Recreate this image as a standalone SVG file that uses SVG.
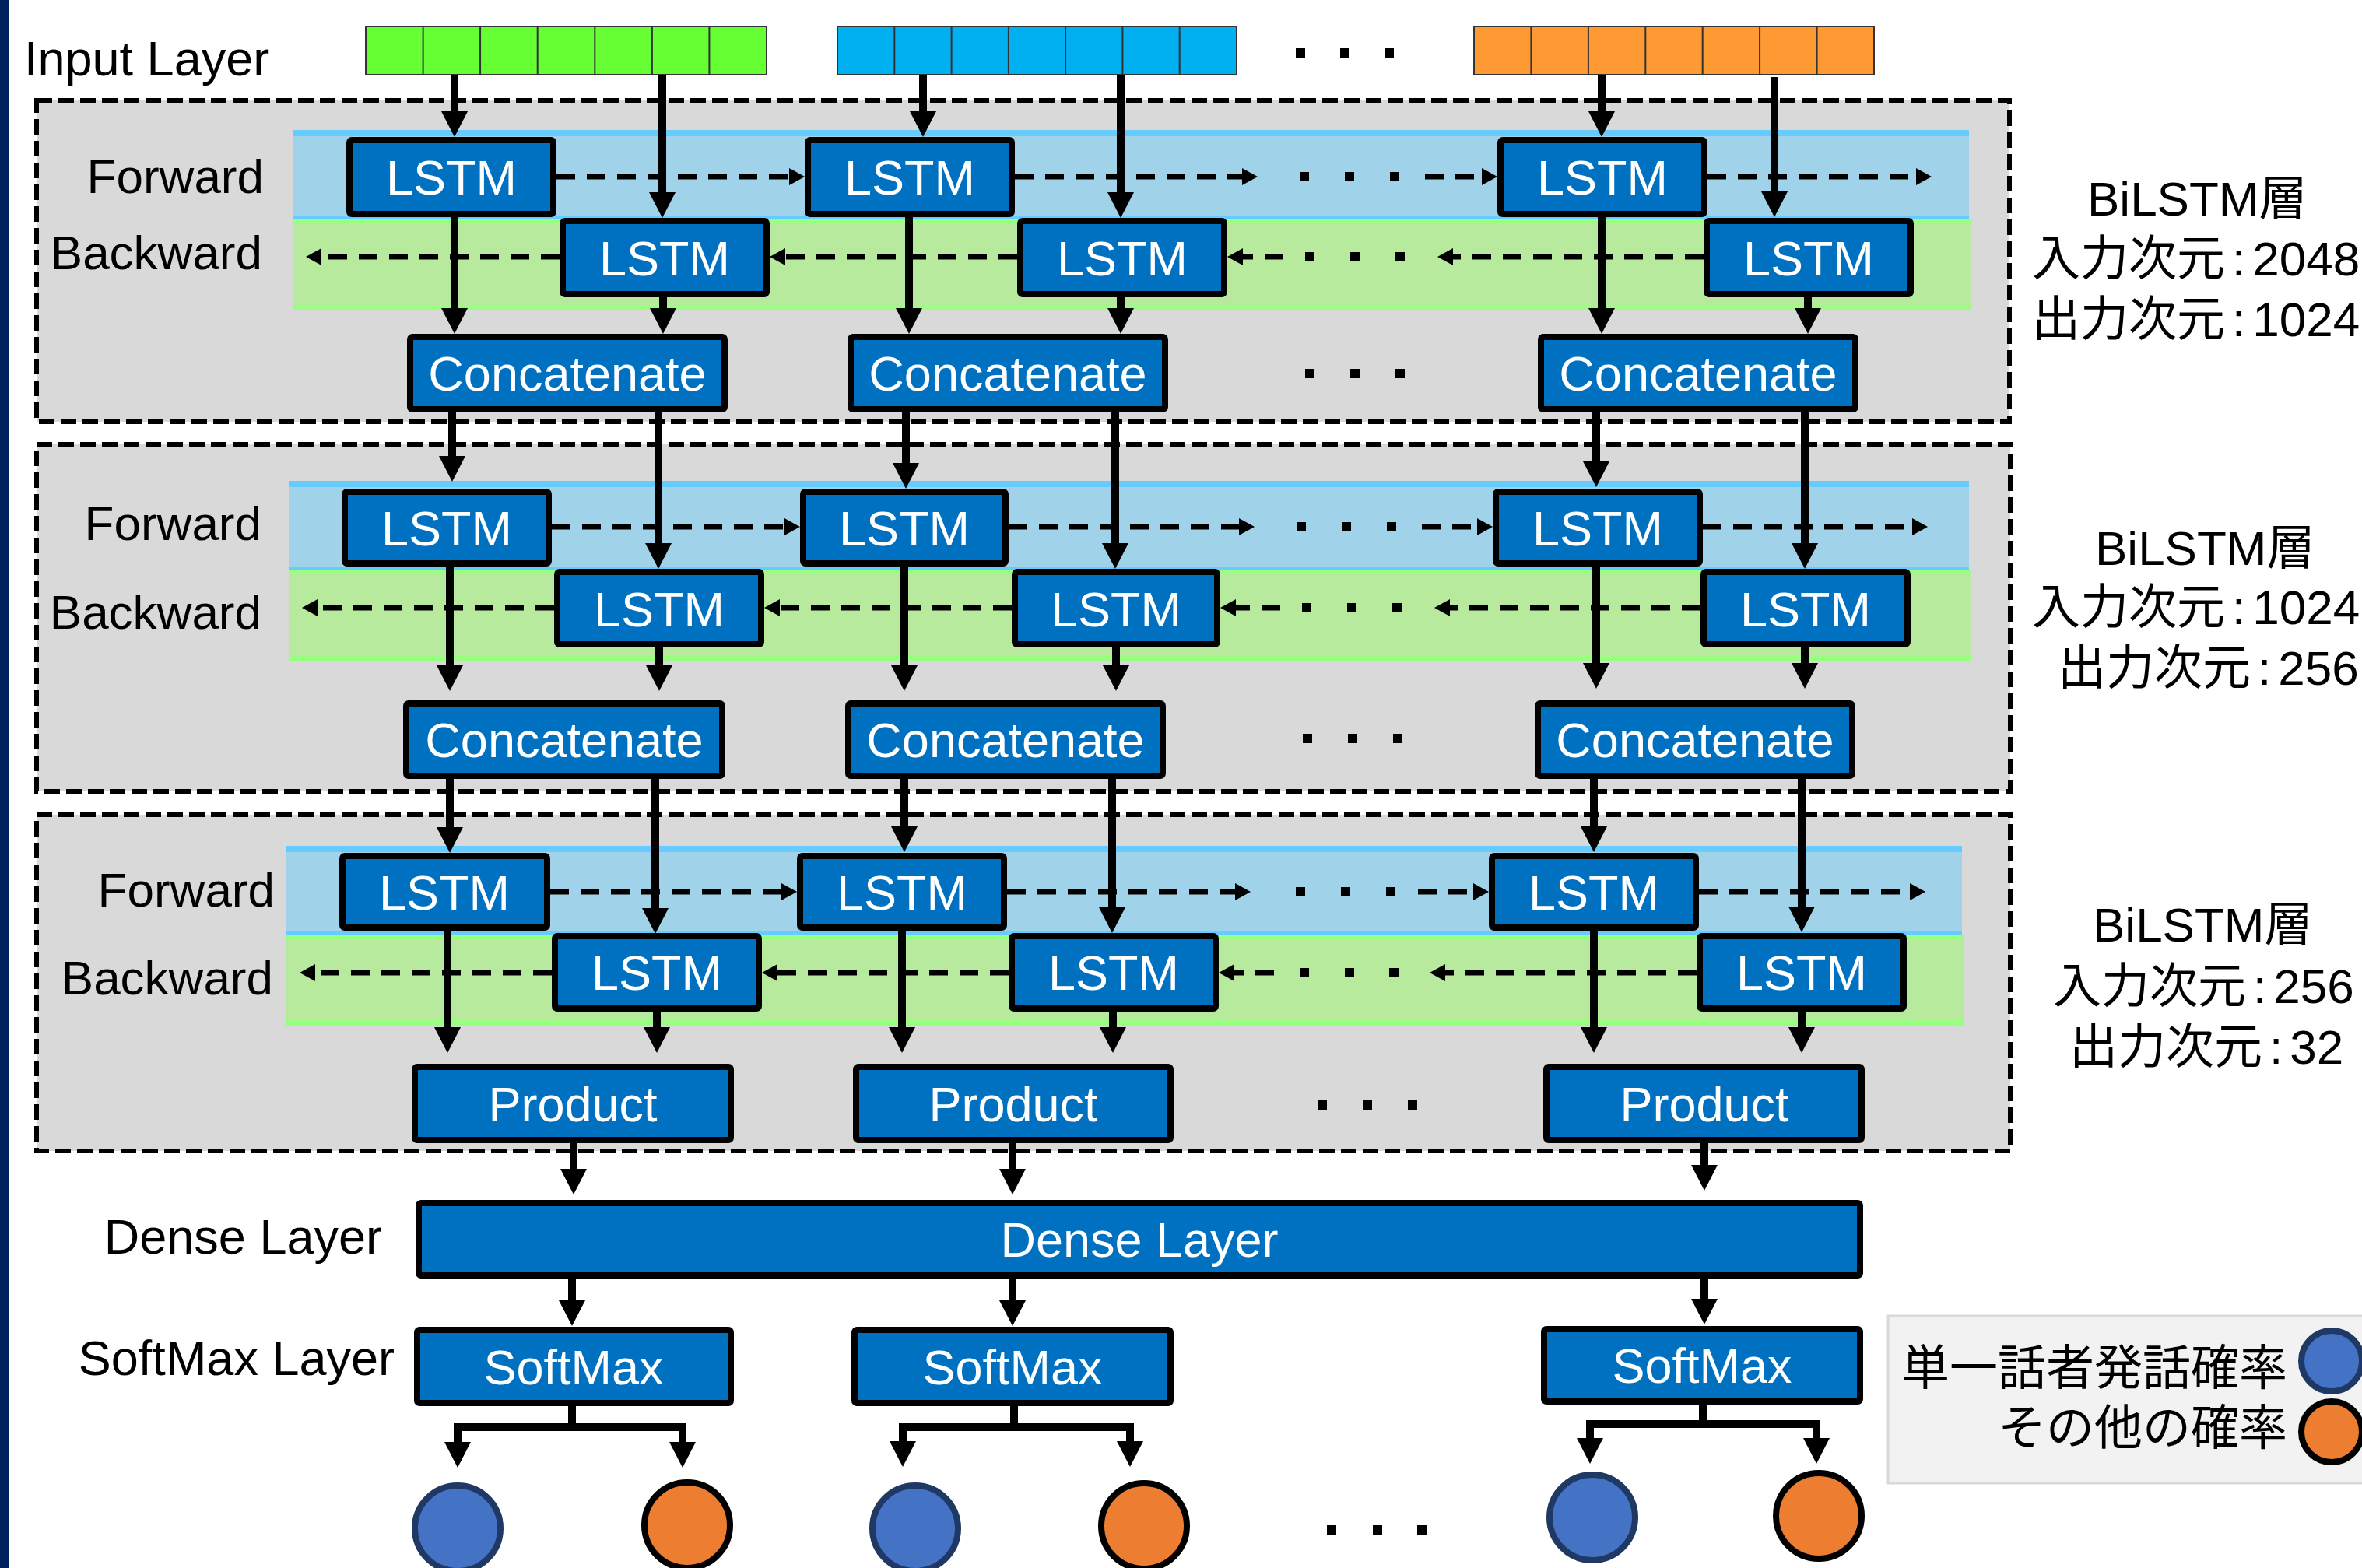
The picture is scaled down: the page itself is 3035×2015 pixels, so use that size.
<svg xmlns="http://www.w3.org/2000/svg" width="3035" height="2015" viewBox="0 0 3035 2015">
<style>
.t{font-family:"Liberation Sans",Arial,sans-serif;fill:#000}
.jp{font-family:"Liberation Sans","Noto Sans CJK JP",sans-serif;fill:#000;font-size:62px}
.bx{fill:#0070C0;stroke:#000;stroke-width:8}
.bt{font-family:"Liberation Sans",Arial,sans-serif;fill:#fff;font-size:63px;text-anchor:middle}
.lbl{font-size:62px;text-anchor:end}
.blk{fill:#D9D9D9;stroke:#000;stroke-width:6;stroke-dasharray:20 8}
.fw{fill:#A0D2EA}
.fws{fill:#66CCFF}
.bw{fill:#B8EA9E}
.bws{fill:#99FF80}
.arr{stroke:#000;stroke-width:10;fill:none;marker-end:url(#big)}
.ln{stroke:#000;stroke-width:10;fill:none;stroke-linecap:square}
.darr{stroke:#000;stroke-width:7;stroke-dasharray:24 15;fill:none;marker-end:url(#sm)}
.dot{fill:#000}
.cb{fill:#4472C4;stroke:#1F3864;stroke-width:8}
.co{fill:#ED7D31;stroke:#000;stroke-width:8}
.cell{stroke:#333;stroke-width:2}
</style>
<defs>
<marker id="big" markerUnits="userSpaceOnUse" viewBox="0 0 33 34" refX="8" refY="17" markerWidth="33" markerHeight="34" orient="auto"><path d="M0,0 L33,17 L0,34 z" fill="#000"/></marker>
<marker id="sm" markerUnits="userSpaceOnUse" viewBox="0 0 20 22" refX="4" refY="11" markerWidth="20" markerHeight="22" orient="auto"><path d="M0,0 L20,11 L0,22 z" fill="#000"/></marker>
</defs>
<rect x="0" y="0" width="3035" height="2015" fill="#fff"/>
<rect x="0" y="0" width="12" height="2015" fill="#002060"/>

<!-- blocks -->
<g id="block1">
<rect class="blk" x="47" y="129" width="2535" height="413"/>
<rect class="fw" x="377" y="167" width="2153" height="115"/>
<rect class="fws" x="377" y="167" width="2153" height="8"/>
<rect class="fws" x="377" y="277" width="2153" height="5"/>
<rect class="bw" x="377" y="282" width="2156" height="117"/>
<rect class="bws" x="377" y="282" width="2156" height="5"/>
<rect class="bws" x="377" y="392" width="2156" height="7"/>
</g>
<g id="block2">
<rect class="blk" x="47" y="571" width="2536" height="446"/>
<rect class="fw" x="371" y="618" width="2159" height="115"/>
<rect class="fws" x="371" y="618" width="2159" height="8"/>
<rect class="fws" x="371" y="728" width="2159" height="5"/>
<rect class="bw" x="371" y="733" width="2162" height="116"/>
<rect class="bws" x="371" y="733" width="2162" height="5"/>
<rect class="bws" x="371" y="842" width="2162" height="7"/>
</g>
<g id="block3">
<rect class="blk" x="47" y="1047" width="2536" height="432"/>
<rect class="fw" x="368" y="1087" width="2153" height="115"/>
<rect class="fws" x="368" y="1087" width="2153" height="8"/>
<rect class="fws" x="368" y="1197" width="2153" height="5"/>
<rect class="bw" x="368" y="1202" width="2156" height="116"/>
<rect class="bws" x="368" y="1202" width="2156" height="5"/>
<rect class="bws" x="368" y="1311" width="2156" height="7"/>
</g>

<!-- labels -->
<g id="labels">
<text class="t" x="31" y="97" font-size="63">Input Layer</text>
<text class="t lbl" x="339" y="248">Forward</text>
<text class="t lbl" x="337" y="346">Backward</text>
<text class="t lbl" x="336" y="694">Forward</text>
<text class="t lbl" x="336" y="808">Backward</text>
<text class="t lbl" x="353" y="1165">Forward</text>
<text class="t lbl" x="351" y="1278">Backward</text>
<text class="t" x="491" y="1611" font-size="63" text-anchor="end">Dense Layer</text>
<text class="t" x="507" y="1767" font-size="63" text-anchor="end">SoftMax Layer</text>
<text class="jp" x="2682" y="277">BiLSTM層</text>
<text class="jp" x="2611" y="354">入力次元<tspan dx="9">:</tspan><tspan dx="9">2048</tspan></text>
<text class="jp" x="2611" y="432">出力次元<tspan dx="9">:</tspan><tspan dx="9">1024</tspan></text>
<text class="jp" x="2692" y="726">BiLSTM層</text>
<text class="jp" x="2611" y="802">入力次元<tspan dx="9">:</tspan><tspan dx="9">1024</tspan></text>
<text class="jp" x="2644" y="880">出力次元<tspan dx="9">:</tspan><tspan dx="9">256</tspan></text>
<text class="jp" x="2689" y="1210">BiLSTM層</text>
<text class="jp" x="2638" y="1289">入力次元<tspan dx="9">:</tspan><tspan dx="9">256</tspan></text>
<text class="jp" x="2659" y="1367">出力次元<tspan dx="9">:</tspan><tspan dx="9">32</tspan></text>
</g>

<!-- inputs -->
<g id="input1">
<rect x="470" y="34" width="515" height="62" fill="#66FF33" stroke="#333" stroke-width="2"/>
<path class="cell" d="M543.6,34V96M617.1,34V96M690.7,34V96M764.3,34V96M837.9,34V96M911.4,34V96"/>
</g>
<g id="input2">
<rect x="1076" y="34" width="513" height="62" fill="#00B0F0" stroke="#333" stroke-width="2"/>
<path class="cell" d="M1149.3,34V96M1222.6,34V96M1295.9,34V96M1369.1,34V96M1442.4,34V96M1515.7,34V96"/>
</g>
<g id="input3">
<rect x="1894" y="34" width="514" height="62" fill="#FF9933" stroke="#333" stroke-width="2"/>
<path class="cell" d="M1967.4,34V96M2040.9,34V96M2114.3,34V96M2187.7,34V96M2261.1,34V96M2334.6,34V96"/>
</g>

<!-- block1 nodes -->
<g id="b1f1"><rect class="bx" x="449" y="180" width="262" height="95" rx="3"/><text class="bt" x="580" y="250">LSTM</text></g>
<g id="b1f2"><rect class="bx" x="1038" y="180" width="262" height="95" rx="3"/><text class="bt" x="1169" y="250">LSTM</text></g>
<g id="b1f3"><rect class="bx" x="1928" y="180" width="262" height="95" rx="3"/><text class="bt" x="2059" y="250">LSTM</text></g>
<g id="b1b1"><rect class="bx" x="723" y="284" width="262" height="94" rx="3"/><text class="bt" x="854" y="354">LSTM</text></g>
<g id="b1b2"><rect class="bx" x="1311" y="284" width="262" height="94" rx="3"/><text class="bt" x="1442" y="354">LSTM</text></g>
<g id="b1b3"><rect class="bx" x="2193" y="284" width="262" height="94" rx="3"/><text class="bt" x="2324" y="354">LSTM</text></g>
<g id="b1c1"><rect class="bx" x="527" y="433" width="404" height="93" rx="3"/><text class="bt" x="729" y="502">Concatenate</text></g>
<g id="b1c2"><rect class="bx" x="1093" y="433" width="404" height="93" rx="3"/><text class="bt" x="1295" y="502">Concatenate</text></g>
<g id="b1c3"><rect class="bx" x="1980" y="433" width="404" height="93" rx="3"/><text class="bt" x="2182" y="502">Concatenate</text></g>

<!-- block2 nodes -->
<g id="b2f1"><rect class="bx" x="443" y="632" width="262" height="92" rx="3"/><text class="bt" x="574" y="701">LSTM</text></g>
<g id="b2f2"><rect class="bx" x="1032" y="632" width="260" height="92" rx="3"/><text class="bt" x="1162" y="701">LSTM</text></g>
<g id="b2f3"><rect class="bx" x="1922" y="632" width="262" height="92" rx="3"/><text class="bt" x="2053" y="701">LSTM</text></g>
<g id="b2b1"><rect class="bx" x="716" y="735" width="262" height="93" rx="3"/><text class="bt" x="847" y="805">LSTM</text></g>
<g id="b2b2"><rect class="bx" x="1304" y="735" width="260" height="93" rx="3"/><text class="bt" x="1434" y="805">LSTM</text></g>
<g id="b2b3"><rect class="bx" x="2189" y="735" width="262" height="93" rx="3"/><text class="bt" x="2320" y="805">LSTM</text></g>
<g id="b2c1"><rect class="bx" x="522" y="904" width="406" height="93" rx="3"/><text class="bt" x="725" y="973">Concatenate</text></g>
<g id="b2c2"><rect class="bx" x="1090" y="904" width="404" height="93" rx="3"/><text class="bt" x="1292" y="973">Concatenate</text></g>
<g id="b2c3"><rect class="bx" x="1976" y="904" width="404" height="93" rx="3"/><text class="bt" x="2178" y="973">Concatenate</text></g>

<!-- block3 nodes -->
<g id="b3f1"><rect class="bx" x="440" y="1100" width="263" height="92" rx="3"/><text class="bt" x="571" y="1169">LSTM</text></g>
<g id="b3f2"><rect class="bx" x="1028" y="1100" width="262" height="92" rx="3"/><text class="bt" x="1159" y="1169">LSTM</text></g>
<g id="b3f3"><rect class="bx" x="1917" y="1100" width="262" height="92" rx="3"/><text class="bt" x="2048" y="1169">LSTM</text></g>
<g id="b3b1"><rect class="bx" x="713" y="1203" width="262" height="93" rx="3"/><text class="bt" x="844" y="1272">LSTM</text></g>
<g id="b3b2"><rect class="bx" x="1300" y="1203" width="262" height="93" rx="3"/><text class="bt" x="1431" y="1272">LSTM</text></g>
<g id="b3b3"><rect class="bx" x="2184" y="1203" width="262" height="93" rx="3"/><text class="bt" x="2315" y="1272">LSTM</text></g>
<g id="b3p1"><rect class="bx" x="533" y="1371" width="406" height="94" rx="3"/><text class="bt" x="736" y="1441">Product</text></g>
<g id="b3p2"><rect class="bx" x="1100" y="1371" width="404" height="94" rx="3"/><text class="bt" x="1302" y="1441">Product</text></g>
<g id="b3p3"><rect class="bx" x="1987" y="1371" width="405" height="94" rx="3"/><text class="bt" x="2190" y="1441">Product</text></g>

<!-- dense / softmax -->
<g id="dense"><rect class="bx" x="538" y="1546" width="1852" height="93" rx="3"/><text class="bt" x="1464" y="1615">Dense Layer</text></g>
<g id="sm1"><rect class="bx" x="536" y="1709" width="403" height="94" rx="3"/><text class="bt" x="737" y="1779">SoftMax</text></g>
<g id="sm2"><rect class="bx" x="1098" y="1709" width="406" height="94" rx="3"/><text class="bt" x="1301" y="1779">SoftMax</text></g>
<g id="sm3"><rect class="bx" x="1984" y="1708" width="406" height="93" rx="3"/><text class="bt" x="2187" y="1777">SoftMax</text></g>

<!-- outputs -->
<g id="o1b"><circle class="cb" cx="588" cy="1964" r="55"/></g>
<g id="o1o"><circle class="co" cx="883" cy="1960" r="55"/></g>
<g id="o2b"><circle class="cb" cx="1176" cy="1964" r="55"/></g>
<g id="o2o"><circle class="co" cx="1470" cy="1961" r="55"/></g>
<g id="o3b"><circle class="cb" cx="2046" cy="1950" r="55"/></g>
<g id="o3o"><circle class="co" cx="2337" cy="1948" r="55"/></g>

<!-- legend -->
<g id="legend">
<rect x="2426" y="1691" width="620" height="215" fill="#F2F2F2" stroke="#D9D9D9" stroke-width="3"/>
<text class="jp" x="2939" y="1780" font-size="63" text-anchor="end">単一話者発話確率</text>
<text class="jp" x="2939" y="1857" font-size="63" text-anchor="end">その他の確率</text>
<circle class="cb" cx="2996" cy="1749" r="39"/>
<circle class="co" cx="2996" cy="1840" r="39"/>
</g>

<!-- dots -->
<g id="dots">
<rect class="dot" x="1665" y="62" width="12" height="13"/><rect class="dot" x="1722" y="62" width="12" height="13"/><rect class="dot" x="1779" y="62" width="12" height="13"/>
<rect class="dot" x="1670" y="221" width="12" height="12"/><rect class="dot" x="1728" y="221" width="12" height="12"/><rect class="dot" x="1786" y="221" width="12" height="12"/>
<rect class="dot" x="1677" y="324" width="12" height="12"/><rect class="dot" x="1735" y="324" width="12" height="12"/><rect class="dot" x="1793" y="324" width="12" height="12"/>
<rect class="dot" x="1677" y="474" width="12" height="12"/><rect class="dot" x="1735" y="474" width="12" height="12"/><rect class="dot" x="1793" y="474" width="12" height="12"/>
<rect class="dot" x="1666" y="671" width="12" height="12"/><rect class="dot" x="1724" y="671" width="12" height="12"/><rect class="dot" x="1782" y="671" width="12" height="12"/>
<rect class="dot" x="1673" y="775" width="12" height="12"/><rect class="dot" x="1731" y="775" width="12" height="12"/><rect class="dot" x="1789" y="775" width="12" height="12"/>
<rect class="dot" x="1674" y="943" width="12" height="12"/><rect class="dot" x="1732" y="943" width="12" height="12"/><rect class="dot" x="1790" y="943" width="12" height="12"/>
<rect class="dot" x="1665" y="1140" width="12" height="12"/><rect class="dot" x="1723" y="1140" width="12" height="12"/><rect class="dot" x="1781" y="1140" width="12" height="12"/>
<rect class="dot" x="1670" y="1244" width="12" height="12"/><rect class="dot" x="1728" y="1244" width="12" height="12"/><rect class="dot" x="1785" y="1244" width="12" height="12"/>
<rect class="dot" x="1693" y="1414" width="12" height="12"/><rect class="dot" x="1751" y="1414" width="12" height="12"/><rect class="dot" x="1809" y="1414" width="12" height="12"/>
<rect class="dot" x="1705" y="1960" width="12" height="12"/><rect class="dot" x="1764" y="1960" width="12" height="12"/><rect class="dot" x="1821" y="1960" width="12" height="12"/>
</g>

<!-- connectors -->
<g id="connectors">
<line class="arr" x1="584" y1="96" x2="584" y2="151"/>
<line class="arr" x1="851" y1="96" x2="851" y2="255"/>
<line class="arr" x1="584" y1="279" x2="584" y2="404"/>
<line class="arr" x1="852" y1="382" x2="852" y2="404"/>
<line class="arr" x1="1186" y1="96" x2="1186" y2="151"/>
<line class="arr" x1="1440" y1="96" x2="1440" y2="255"/>
<line class="arr" x1="1168" y1="279" x2="1168" y2="404"/>
<line class="arr" x1="1440" y1="382" x2="1440" y2="404"/>
<line class="arr" x1="2058" y1="96" x2="2058" y2="151"/>
<line class="arr" x1="2280" y1="99" x2="2280" y2="254"/>
<line class="arr" x1="2058" y1="279" x2="2058" y2="404"/>
<line class="arr" x1="2323" y1="381" x2="2323" y2="404"/>
<line class="arr" x1="581" y1="530" x2="581" y2="594"/>
<line class="arr" x1="846" y1="530" x2="846" y2="706"/>
<line class="arr" x1="1164" y1="530" x2="1164" y2="603"/>
<line class="arr" x1="1433" y1="530" x2="1433" y2="706"/>
<line class="arr" x1="2051" y1="528" x2="2051" y2="601"/>
<line class="arr" x1="2319" y1="528" x2="2319" y2="706"/>
<line class="arr" x1="578" y1="728" x2="578" y2="863"/>
<line class="arr" x1="847" y1="832" x2="847" y2="863"/>
<line class="arr" x1="1162" y1="728" x2="1162" y2="863"/>
<line class="arr" x1="1434" y1="832" x2="1434" y2="863"/>
<line class="arr" x1="2051" y1="726" x2="2051" y2="860"/>
<line class="arr" x1="2319" y1="830" x2="2319" y2="860"/>
<line class="arr" x1="578" y1="1001" x2="578" y2="1071"/>
<line class="arr" x1="842" y1="1001" x2="842" y2="1175"/>
<line class="arr" x1="1162" y1="1001" x2="1162" y2="1070"/>
<line class="arr" x1="1429" y1="1001" x2="1429" y2="1174"/>
<line class="arr" x1="2048" y1="998" x2="2048" y2="1070"/>
<line class="arr" x1="2315" y1="998" x2="2315" y2="1173"/>
<line class="arr" x1="575" y1="1196" x2="575" y2="1328"/>
<line class="arr" x1="844" y1="1300" x2="844" y2="1328"/>
<line class="arr" x1="1159" y1="1196" x2="1159" y2="1328"/>
<line class="arr" x1="1430" y1="1300" x2="1430" y2="1328"/>
<line class="arr" x1="2048" y1="1196" x2="2048" y2="1328"/>
<line class="arr" x1="2315" y1="1300" x2="2315" y2="1328"/>
<line class="arr" x1="737" y1="1469" x2="737" y2="1510"/>
<line class="arr" x1="1301" y1="1469" x2="1301" y2="1510"/>
<line class="arr" x1="2190" y1="1469" x2="2190" y2="1505"/>
<line class="arr" x1="735" y1="1643" x2="735" y2="1679"/>
<line class="arr" x1="1301" y1="1643" x2="1301" y2="1679"/>
<line class="arr" x1="2190" y1="1643" x2="2190" y2="1677"/>
<line class="ln" x1="735" y1="1807" x2="735" y2="1834"/>
<line class="ln" x1="588" y1="1834" x2="877" y2="1834"/>
<line class="arr" x1="588" y1="1834" x2="588" y2="1861"/>
<line class="arr" x1="877" y1="1834" x2="877" y2="1861"/>
<line class="ln" x1="1303" y1="1808" x2="1303" y2="1834"/>
<line class="ln" x1="1160" y1="1834" x2="1452" y2="1834"/>
<line class="arr" x1="1160" y1="1834" x2="1160" y2="1860"/>
<line class="arr" x1="1452" y1="1834" x2="1452" y2="1860"/>
<line class="ln" x1="2188" y1="1805" x2="2188" y2="1830"/>
<line class="ln" x1="2043" y1="1830" x2="2334" y2="1830"/>
<line class="arr" x1="2043" y1="1830" x2="2043" y2="1856"/>
<line class="arr" x1="2334" y1="1830" x2="2334" y2="1856"/>
<line class="darr" x1="715" y1="227" x2="1018" y2="227"/>
<line class="darr" x1="1304" y1="227" x2="1600" y2="227"/>
<line class="darr" x1="1831" y1="227" x2="1908" y2="227"/>
<line class="darr" x1="2194" y1="227" x2="2466" y2="227"/>
<line class="darr" x1="719" y1="330" x2="409" y2="330"/>
<line class="darr" x1="1307" y1="330" x2="1005" y2="330"/>
<line class="darr" x1="1649" y1="330" x2="1593" y2="330"/>
<line class="darr" x1="2189" y1="330" x2="1863" y2="330"/>
<line class="darr" x1="709" y1="677" x2="1012" y2="677"/>
<line class="darr" x1="1296" y1="677" x2="1596" y2="677"/>
<line class="darr" x1="1827" y1="677" x2="1902" y2="677"/>
<line class="darr" x1="2188" y1="677" x2="2461" y2="677"/>
<line class="darr" x1="712" y1="781" x2="404" y2="781"/>
<line class="darr" x1="1300" y1="781" x2="998" y2="781"/>
<line class="darr" x1="1645" y1="781" x2="1584" y2="781"/>
<line class="darr" x1="2185" y1="781" x2="1859" y2="781"/>
<line class="darr" x1="707" y1="1146" x2="1008" y2="1146"/>
<line class="darr" x1="1294" y1="1146" x2="1591" y2="1146"/>
<line class="darr" x1="1822" y1="1146" x2="1897" y2="1146"/>
<line class="darr" x1="2183" y1="1146" x2="2458" y2="1146"/>
<line class="darr" x1="709" y1="1250" x2="401" y2="1250"/>
<line class="darr" x1="1296" y1="1250" x2="995" y2="1250"/>
<line class="darr" x1="1637" y1="1250" x2="1582" y2="1250"/>
<line class="darr" x1="2180" y1="1250" x2="1853" y2="1250"/>
</g>
</svg>
